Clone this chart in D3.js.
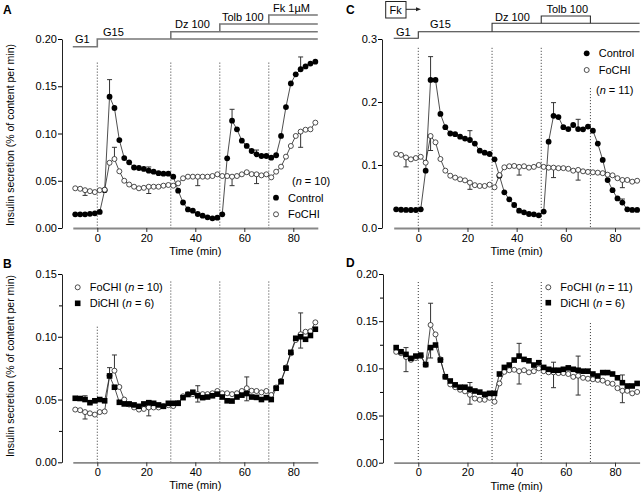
<!DOCTYPE html>
<html>
<head>
<meta charset="utf-8">
<script src="https://cdn.jsdelivr.net/npm/d3@7/dist/d3.min.js"></script>
<style>
	body { margin: 0; background: #fff; }
	svg { display: block; font-family: "Liberation Sans", Arial, sans-serif; }
</style>
</head>
<body>
<svg id="chart" width="642" height="496"></svg>
<script>
// sampling times (min)
const times = [-9,-7,-5,-3,-1,1,3,5,7,9,11,13,15,17,19,21,23,25,27,29,31,33,35,37,39,41,43,45,47,49,51,53,55,57,59,61,63,65,67,69,71,73,75,77,79,81,83,85,87,89];

// panel A / B (n = 10)
const controlA = [.0145,.0145,.0145,.015,.0155,.017,.04,.139,.127,.093,
	.074,.0695,.064,.0635,.0625,.0607,.0596,.058,.0575,.0575,
	.0543,.0395,.027,.0197,.0183,.0148,.013,.0113,.0102,.0109,
	.0145,.0737,.1136,.1044,.0924,.0868,.0815,.078,.0762,.0762,
	.0744,.077,.0974,.128,.153,.1626,.168,.171,.174,.176];
const fochi10 = [.042,.0415,.040,.039,.038,.040,.0405,.069,.073,.060,
	.050,.046,.0437,.042,.0425,.0437,.0437,.0437,.0448,.0455,
	.0448,.0473,.0526,.0543,.0543,.0543,.0543,.0543,.055,.0568,
	.055,.055,.0543,.055,.0568,.059,.057,.0568,.0557,.0568,
	.0536,.0596,.0649,.0755,.0868,.0974,.102,.104,.1044,.1115];
const dichiB = [.051,.0508,.050,.0475,.049,.050,.049,.0688,.0598,.0478,
	.0465,.0465,.0457,.0446,.0465,.0475,.047,.0457,.0446,.047,
	.047,.047,.0515,.054,.0558,.053,.0515,.052,.053,.0543,
	.052,.049,.0488,.052,.0535,.0548,.052,.0517,.050,.0515,
	.050,.059,.0642,.075,.0876,.0988,.100,.098,.101,.106];

// panel C / D (Fk, n = 11)
const controlC = [.0296,.029,.0287,.0286,.0286,.0296,.091,.235,.235,.181,
	.160,.150,.149,.145,.142,.1397,.134,.1227,.1196,.1175,
	.109,.083,.0566,.0455,.0365,.0275,.0249,.0222,.0217,.0201,
	.026,.137,.178,.176,.160,.157,.1635,.157,.1566,.161,
	.1545,.134,.108,.076,.060,.047,.0403,.0296,.0287,.0287];
const fochi11 = [.1175,.116,.112,.109,.111,.113,.1037,.146,.136,.1095,
	.091,.083,.080,.0773,.0756,.072,.068,.0667,.0667,.0688,
	.0646,.084,.0963,.098,.0985,.097,.098,.0958,.097,.100,
	.097,.0958,.0958,.095,.095,.094,.091,.0922,.090,.089,
	.0884,.0878,.087,.0846,.0836,.079,.0762,.0762,.0735,.075];
const dichiD = [.122,.1176,.1148,.1106,.113,.114,.104,.122,.1247,.1088,
	.0911,.0866,.0825,.080,.080,.0778,.076,.0748,.0725,.0735,
	.0735,.094,.101,.1035,.1088,.113,.1095,.108,.1035,.106,
	.101,.099,.098,.098,.099,.1005,.099,.098,.097,.097,
	.094,.0919,.0955,.0955,.094,.090,.0848,.0813,.0813,.084];

// error bars: [time, end of bar]
const errControlA = [[5,.157],[21,.0646],[55,.1256],[65,.0825],[83,.181]];
const errFochiA = [[-5,.0345],[7,.0854],[21,.0365],[41,.0448],[55,.0448],[65,.047],[83,.0854]];
const errFochiB = [[-5,.0345],[7,.0855],[21,.037],[41,.048],[61,.068],[83,.091]];
const errDichiB = [[-5,.053],[5,.0754],[21,.049],[41,.061],[61,.049],[83,.119]];
const errControlC = [[5,.272],[21,.1545],[55,.199],[65,.1725],[83,.046]];
const errFochiC = [[-5,.097],[5,.123],[21,.0614],[41,.084],[55,.080],[65,.076],[83,.064]];
const errFochiD = [[-5,.0965],[5,.169],[21,.062],[41,.0834],[55,.0795],[65,.0717],[83,.0636]];
const errDichiD = [[-5,.122],[5,.111],[21,.085],[41,.1265],[55,.1065],[65,.113],[83,.093]];

// solution changes (min)
const changes = [0, 30, 50, 70];
const xTicks = [0, 20, 40, 60, 80];
const yTicksA = [0, .05, .10, .15, .20];
const yTicksB = [0, .05, .10, .15];
const yTicksC = [0, .1, .2, .3];
const yTicksD = [0, .05, .10, .15, .20];

const svg = d3.select('#chart');
const fmt2 = d3.format('.2f');
const fmt1 = d3.format('.1f');

function drawPanel(p) {
	const x = d3.scaleLinear().domain([-10, 90]).range([p.x0, p.x1]);
	const y = d3.scaleLinear().domain([0, p.yMax]).range([p.yBottom, p.yTop]);
	const g = svg.append('g');

	// dotted lines at solution changes
	g.selectAll('line.dot')
		.data(changes)
		.join('line')
		.attr('x1', d => x(d)).attr('x2', d => x(d))
		.attr('y1', (d, i) => y(p.dotTop[i]))
		.attr('y2', p.yBottom)
		.attr('stroke', '#333')
		.attr('stroke-width', 1)
		.attr('stroke-dasharray', '1,2');

	// x axis
	const xa = g.append('g')
		.attr('transform', `translate(0,${p.yBottom})`)
		.call(d3.axisBottom(x).tickValues(xTicks).tickSize(4).tickPadding(2).tickSizeOuter(0));
	xa.select('.domain').attr('stroke', '#888').attr('stroke-width', 1.8);
	xa.selectAll('.tick line').attr('stroke', '#333');
	xa.selectAll('.tick text').attr('font-size', 11).attr('fill', '#000')
		.attr('font-family', '"Liberation Sans", Arial, sans-serif');
	g.append('text')
		.attr('x', x(40)).attr('y', p.yBottom + 27)
		.attr('text-anchor', 'middle').attr('font-size', 11)
		.text('Time (min)');

	// y axis
	const ya = g.append('g')
		.attr('transform', `translate(${p.axisX},0)`)
		.call(d3.axisLeft(y).tickValues(p.yTicks).tickFormat(p.fmt).tickSize(4).tickSizeOuter(0));
	ya.select('.domain').attr('stroke', '#222').attr('stroke-width', 1);
	ya.selectAll('.tick text').attr('font-size', 11).attr('fill', '#000').attr('x', -5)
		.attr('font-family', '"Liberation Sans", Arial, sans-serif');
	if (p.minor) {
		g.append('g')
			.attr('transform', `translate(${p.axisX},0)`)
			.call(d3.axisLeft(y).tickValues(p.minor).tickFormat('').tickSize(3))
			.select('.domain').remove();
	}

	const line = d3.line().x(d => x(d[0])).y(d => y(d[1]));

	p.series.forEach(s => {
		const pts = times.map((t, i) => [t, s.values[i]]);
		g.append('path')
			.datum(pts)
			.attr('fill', 'none')
			.attr('stroke', '#222')
			.attr('stroke-width', 0.8)
			.attr('d', line);
	});

	p.series.forEach(s => {
		const byTime = new Map(times.map((t, i) => [t, s.values[i]]));
		const eb = g.append('g').attr('stroke', '#333').attr('stroke-width', 1);
		s.err.forEach(([t, v]) => {
			eb.append('line').attr('x1', x(t)).attr('x2', x(t)).attr('y1', y(byTime.get(t))).attr('y2', y(v));
			eb.append('line').attr('x1', x(t) - 2.5).attr('x2', x(t) + 2.5).attr('y1', y(v)).attr('y2', y(v));
		});
	});

	p.series.forEach(s => {
		const pts = times.map((t, i) => [t, s.values[i]]);
		drawMarks(g, pts.map(d => [x(d[0]), y(d[1])]), s.mark);
	});

	return { x, y, g };
}

function drawMarks(g, pts, mark) {
	if (mark === 'square') {
		g.append('g').selectAll('rect')
			.data(pts).join('rect')
			.attr('x', d => d[0] - 2.8).attr('y', d => d[1] - 2.8)
			.attr('width', 5.6).attr('height', 5.6)
			.attr('fill', '#000');
	} else if (mark === 'filled') {
		g.append('g').selectAll('circle')
			.data(pts).join('circle')
			.attr('cx', d => d[0]).attr('cy', d => d[1]).attr('r', 2.9)
			.attr('fill', '#000');
	} else {
		g.append('g').selectAll('circle')
			.data(pts).join('circle')
			.attr('cx', d => d[0]).attr('cy', d => d[1]).attr('r', 2.5)
			.attr('fill', '#fff').attr('stroke', '#222').attr('stroke-width', 0.8);
	}
}

function legendItem(x, y, mark, label) {
	drawMarks(svg, [[x, y]], mark);
	const t = svg.append('text').attr('x', x + 12).attr('y', y + 4).attr('font-size', 11);
	label.forEach(part => {
		t.append('tspan').attr('font-style', part.i ? 'italic' : null).text(part.s);
	});
}

function header(x, steps, color, width) {
	const l = d3.line().x(d => x(d[0])).y(d => d[1]);
	steps.forEach(s => {
		svg.append('path')
			.attr('d', l(s))
			.attr('fill', 'none')
			.attr('stroke', color)
			.attr('stroke-width', width);
	});
}

function label(x, y, s, size, bold) {
	return svg.append('text')
		.attr('x', x).attr('y', y)
		.attr('font-size', size)
		.attr('font-weight', bold ? 'bold' : null)
		.text(s);
}

function yTitle(cx, cy) {
	svg.append('text')
		.attr('transform', `translate(${cx},${cy}) rotate(-90)`)
		.attr('text-anchor', 'middle')
		.attr('font-size', 10.5)
		.text('Insulin secretion (% of content per min)');
}

// A
const A = drawPanel({
	x0: 72.8, x1: 317.8, axisX: 62, yBottom: 228, yTop: 39, yMax: .20,
	yTicks: yTicksA, fmt: fmt2, dotTop: [.175, .175, .175, .175],
	series: [
		{ values: controlA, mark: 'filled', err: errControlA },
		{ values: fochi10, mark: 'open', err: errFochiA }
	]
});
header(A.x, [
	[[-10, 46.7], [0, 46.7], [0, 39], [90, 39]],
	[[30, 39], [30, 31.7], [90, 31.7]],
	[[50, 31.7], [50, 24], [90, 24]],
	[[70, 24], [70, 15], [90, 15]]
], '#777', 1.6);
label(75, 43, 'G1', 11);
label(103, 35.5, 'G15', 11);
label(175, 28, 'Dz 100', 11);
label(222, 20.5, 'Tolb 100', 11);
label(273, 12, 'Fk 1µM', 11);
label(3, 14, 'A', 12, true);
yTitle(14, 135);
svg.append('text').attr('x', 292).attr('y', 185).attr('font-size', 11)
	.call(t => { t.append('tspan').text('('); t.append('tspan').attr('font-style', 'italic').text('n'); t.append('tspan').text(' = 10)'); });
legendItem(276, 197.7, 'filled', [{ s: 'Control' }]);
legendItem(276, 214.3, 'open', [{ s: 'FoCHI' }]);

// B
const B = drawPanel({
	x0: 72.8, x1: 317.8, axisX: 62, yBottom: 462.3, yTop: 274, yMax: .15,
	yTicks: yTicksB, fmt: fmt2, minor: [.025, .075, .125], dotTop: [.108, .144, .144, .144],
	series: [
		{ values: fochi10, mark: 'open', err: errFochiB },
		{ values: dichiB, mark: 'square', err: errDichiB }
	]
});
label(3, 268, 'B', 12, true);
yTitle(14, 366);
legendItem(77.7, 287.3, 'open', [{ s: 'FoCHI  (' }, { s: 'n', i: true }, { s: ' = 10)' }]);
legendItem(77.7, 303.3, 'square', [{ s: 'DiCHI  (' }, { s: 'n', i: true }, { s: ' = 6)' }]);

// C
const C = drawPanel({
	x0: 393.7, x1: 639.6, axisX: 382, yBottom: 228, yTop: 39, yMax: .3,
	yTicks: yTicksC, fmt: fmt1, dotTop: [.286, .286, .286, .222],
	series: [
		{ values: controlC, mark: 'filled', err: errControlC },
		{ values: fochi11, mark: 'open', err: errFochiC }
	]
});
header(C.x, [
	[[-10, 38.3], [0, 38.3], [0, 31.7], [90, 31.7]],
	[[30, 31.7], [30, 23.3], [90, 23.3]],
	[[50, 23.3], [50, 16], [70, 16], [70, 23.3]]
], '#333', 1.1);
label(396, 36, 'G1', 11);
label(430, 28, 'G15', 11);
label(495, 20.5, 'Dz 100', 11);
label(546.5, 12.5, 'Tolb 100', 11);
label(346, 14, 'C', 12, true);
svg.append('rect').attr('x', 385.7).attr('y', 1.5).attr('width', 20.3).attr('height', 16.5)
	.attr('fill', 'none').attr('stroke', '#222').attr('stroke-width', 1);
label(389.5, 14, 'Fk', 11);
svg.append('line').attr('x1', 406).attr('x2', 417).attr('y1', 9.3).attr('y2', 9.3).attr('stroke', '#222');
svg.append('path').attr('d', 'M421,9.3 L416,7.3 L416,11.3 Z').attr('fill', '#222');
legendItem(586.7, 53.3, 'filled', [{ s: 'Control' }]);
legendItem(586.7, 70, 'open', [{ s: 'FoCHI' }]);
svg.append('text').attr('x', 596).attr('y', 94).attr('font-size', 11)
	.call(t => { t.append('tspan').text('('); t.append('tspan').attr('font-style', 'italic').text('n'); t.append('tspan').text(' = 11)'); });

// D
const D = drawPanel({
	x0: 393.7, x1: 639.6, axisX: 383, yBottom: 462.7, yTop: 274, yMax: .20,
	yTicks: yTicksD, fmt: fmt2, minor: [.025, .075, .125, .175], dotTop: [.1915, .1915, .1915, .148],
	series: [
		{ values: fochi11, mark: 'open', err: errFochiD },
		{ values: dichiD, mark: 'square', err: errDichiD }
	]
});
label(346, 267, 'D', 12, true);
legendItem(548.3, 287.3, 'open', [{ s: 'FoCHI (' }, { s: 'n', i: true }, { s: ' = 11)' }]);
legendItem(548.3, 302.7, 'square', [{ s: 'DiCHI (' }, { s: 'n', i: true }, { s: ' = 6)' }]);
</script>
</body>
</html>
